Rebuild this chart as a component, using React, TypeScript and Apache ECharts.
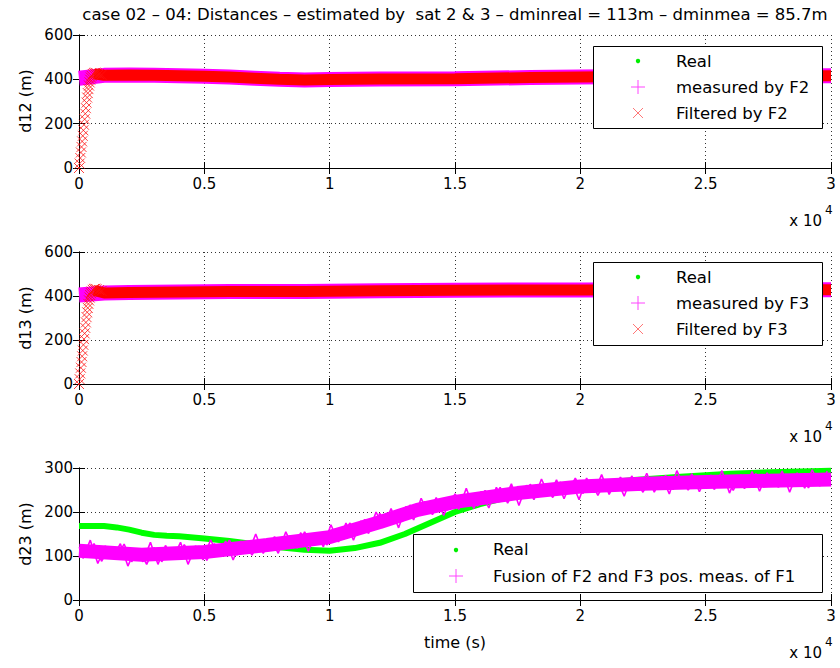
import React, { useEffect, useRef } from "react";
import * as echarts from "echarts";

const FONT = "DejaVu Sans";

const TITLE = "case 02 – 04: Distances – estimated by  sat 2 & 3 – dminreal = 113m – dminmea = 85.7m";

// ---- subplot 1 : d12 ----
const T_BAND = [0, 1000, 2000, 3000, 4000, 5000, 6000, 7000, 8000, 9000, 10000, 12000, 15000, 18000, 20000, 23000, 25000, 30000];
const REAL_D12 = [405, 417, 418, 417, 415, 413, 409, 404, 399, 396, 398, 400, 402, 407, 410, 413, 414, 415];
const MEAS_D12 = [405, 418, 419, 418, 416, 414, 410, 405, 400, 397, 399, 401, 403, 408, 411, 414, 415, 416];
const T_FILT = [600, 1000, 2000, 3000, 4000, 5000, 6000, 7000, 8000, 9000, 10000, 12000, 15000, 18000, 20000, 23000, 25000, 30000];
const FILT_D12 = [425, 418, 419, 418, 416, 414, 410, 405, 400, 397, 399, 401, 403, 408, 411, 414, 415, 416];
const T_RAMP = [0, 25, 50, 75, 100, 125, 150, 175, 200, 225, 250, 275, 300, 325, 350, 375, 400, 425, 450, 475, 500, 550, 600, 650, 700, 800, 900];
const RAMP_D12 = [0, 20, 45, 70, 95, 120, 145, 170, 195, 220, 245, 270, 295, 318, 338, 356, 372, 386, 398, 408, 416, 424, 428, 430, 428, 424, 420];

// ---- subplot 2 : d13 ----
const REAL_D13 = [405, 413, 415, 416, 417, 418, 419, 419, 420, 420, 421, 423, 425, 426, 426, 427, 427, 427];
const MEAS_D13 = [405, 414, 416, 417, 418, 419, 420, 420, 421, 421, 422, 424, 426, 427, 427, 428, 428, 428];
const FILT_D13 = [425, 414, 416, 417, 418, 419, 420, 420, 421, 421, 422, 424, 426, 427, 427, 428, 428, 428];
const RAMP_D13 = [0, 22, 48, 74, 100, 126, 152, 178, 204, 230, 255, 280, 304, 326, 346, 364, 380, 393, 404, 413, 420, 428, 432, 433, 431, 427, 423];

// ---- subplot 3 : d23 ----
const T_REAL3 = [0, 1000, 1500, 2000, 2500, 3000, 3500, 4000, 5000, 6000, 7000, 8000, 9000, 10000, 11000, 12000, 13000, 14000, 15000, 16000, 17000, 18000, 19000, 20000, 22000, 24000, 26000, 28000, 30000];
const REAL_D23 = [168, 168, 165, 160, 153, 148, 146, 145, 140, 134, 127, 120, 114, 112, 118, 130, 150, 175, 200, 218, 232, 243, 251, 260, 272, 280, 287, 291, 294];
const T_FUS_CORE = [0, 2500, 5000, 7500, 10000, 12000, 13500, 15000, 17500, 20000, 22500, 25000, 27500, 30000];
const FUS_CORE_D23 = [112, 103, 109, 125, 143, 177, 205, 223, 243, 258, 264, 268, 271, 274];
const FUS_STEP = 300;
// noisy samples at t = i*300
const FUS_A_D23 = [
  120, 97, 128, 88, 119, 97, 127, 87, 113, 81,
  119, 87, 115, 93, 126, 97, 122, 90, 128, 105,
  136, 102, 131, 102, 133, 112, 144, 119, 146, 118,
  155, 126, 151, 125, 161, 138, 175, 151, 183, 158,
  197, 171, 201, 178, 216, 195, 224, 194, 228, 204,
  241, 212, 242, 213, 249, 223, 256, 220, 255, 233,
  263, 234, 261, 233, 268, 245, 277, 242, 272, 238,
  271, 247, 279, 251, 272, 245, 278, 254, 283, 251,
  278, 250, 277, 254, 284, 257, 282, 249, 285, 259,
  287, 258, 282, 256, 286, 262, 285, 255, 286, 262,
  284,
];
// noisy samples at t = i*300 + 150
const FUS_B_D23 = [
  94, 136, 83, 123, 97, 128, 77, 116, 87, 131,
  81, 124, 94, 131, 81, 123, 91, 137, 101, 134,
  91, 134, 106, 150, 106, 139, 106, 155, 118, 153,
  111, 153, 121, 171, 132, 175, 136, 180, 151, 200,
  166, 208, 164, 213, 182, 231, 196, 233, 192, 234,
  206, 254, 208, 247, 209, 256, 225, 264, 215, 261,
  228, 275, 237, 273, 230, 270, 228, 277, 244, 285,
  240, 275, 236, 282, 249, 288, 245, 281, 241, 294,
  254, 287, 246, 283, 251, 294, 243, 284, 253, 292,
  247, 289, 258, 293, 245, 289, 254, 296, 259, 293,
];

const zip = (t: number[], v: number[]) => v.map((y, i) => [t[i], y]);

const CROSS = "path://M0,0L10,10M10,0L0,10";

const GRIDS = [
  { left: 79, top: 35, width: 752, height: 133 },
  { left: 79, top: 252, width: 752, height: 132 },
  { left: 79, top: 468, width: 752, height: 132 },
];
const Y_RANGES = [
  { max: 600, interval: 200 },
  { max: 600, interval: 200 },
  { max: 300, interval: 100 },
];

function buildOption() {
  const xAxis: any[] = [];
  const yAxis: any[] = [];
  GRIDS.forEach((_, g) => {
    const base = {
      type: "value",
      gridIndex: g,
      min: 0,
      max: 30000,
      interval: 5000,
      axisLine: { show: true, lineStyle: { color: "#000", width: 1 } },
      axisTick: { show: true, inside: true, length: 6, lineStyle: { color: "#000" } },
    };
    xAxis.push({
      ...base,
      position: "bottom",
      axisLabel: {
        color: "#000",
        fontFamily: FONT,
        fontSize: 15,
        margin: 8,
        formatter: (v: number) => String(v / 10000),
      },
      splitLine: { show: true, lineStyle: { color: "#333", type: [1, 3], width: 1 } },
    });
    xAxis.push({ ...base, position: "top", axisLabel: { show: false }, splitLine: { show: false } });
    const yb = {
      type: "value",
      gridIndex: g,
      min: 0,
      max: Y_RANGES[g].max,
      interval: Y_RANGES[g].interval,
      axisLine: { show: true, lineStyle: { color: "#000", width: 1 } },
      axisTick: { show: true, inside: true, length: 6, lineStyle: { color: "#000" } },
    };
    yAxis.push({
      ...yb,
      position: "left",
      axisLabel: { color: "#000", fontFamily: FONT, fontSize: 15, margin: 6 },
      splitLine: { show: true, lineStyle: { color: "#333", type: [1, 3], width: 1 } },
    });
    yAxis.push({ ...yb, position: "right", axisLabel: { show: false }, splitLine: { show: false } });
  });

  const line = (name: string, g: number, data: number[][], color: string, width: number, z = 2) => ({
    type: "line",
    name,
    xAxisIndex: g * 2,
    yAxisIndex: g * 2,
    data,
    showSymbol: false,
    symbol: "none",
    lineStyle: { color, width },
    itemStyle: { color },
    z,
  });
  const ramp = (name: string, g: number, data: number[][]) => ({
    type: "scatter",
    name,
    xAxisIndex: g * 2,
    yAxisIndex: g * 2,
    data,
    symbol: CROSS,
    symbolSize: 10,
    clip: false,
    itemStyle: { color: "rgba(0,0,0,0)", borderColor: "#ff1010", borderWidth: 1 },
    z: 4,
  });
  const FUSION = "Fusion of F2 and F3 pos. meas. of F1";

  const series: any[] = [
    line("Real", 0, zip(T_BAND, REAL_D12), "#00ff00", 3, 1),
    line("measured by F2", 0, zip(T_BAND, MEAS_D12), "#ff00ff", 15, 2),
    line("Filtered by F2", 0, zip(T_FILT, FILT_D12), "#ff0000", 11, 3),
    ramp("Filtered by F2", 0, zip(T_RAMP, RAMP_D12)),
    line("Real", 1, zip(T_BAND, REAL_D13), "#00ff00", 3, 1),
    line("measured by F3", 1, zip(T_BAND, MEAS_D13), "#ff00ff", 15, 2),
    line("Filtered by F3", 1, zip(T_FILT, FILT_D13), "#ff0000", 11, 3),
    ramp("Filtered by F3", 1, zip(T_RAMP, RAMP_D13)),
    line("Real", 2, zip(T_REAL3, REAL_D23), "#00ff00", 6, 1),
    line(FUSION, 2, zip(T_FUS_CORE, FUS_CORE_D23), "#ff00ff", 14, 2),
    line(FUSION, 2, FUS_A_D23.map((v, i) => [i * FUS_STEP, v]), "#ff00ff", 1.6, 3),
    line(FUSION, 2, FUS_B_D23.map((v, i) => [i * FUS_STEP + FUS_STEP / 2, v]), "#ff00ff", 1.6, 3),
  ];

  const txt = (text: string, x: number, y: number, size: number, align = "left", rotation = 0) => ({
    type: "text",
    x,
    y,
    rotation,
    z: 100,
    style: {
      text,
      fill: "#000",
      fontFamily: FONT,
      fontSize: size,
      align,
      textAlign: align,
      verticalAlign: "middle",
      textVerticalAlign: "middle",
    },
  });
  const seg = (x1: number, y1: number, x2: number, y2: number, stroke: string) => ({
    type: "line",
    z: 101,
    shape: { x1, y1, x2, y2 },
    style: { stroke, lineWidth: 1 },
  });
  const box = (x: number, y: number, w: number, h: number) => ({
    type: "rect",
    z: 99,
    shape: { x, y, width: w, height: h },
    style: { fill: "#fff", stroke: "#000", lineWidth: 1 },
  });
  const dot = (x: number, y: number) => ({
    type: "circle",
    z: 101,
    shape: { cx: x, cy: y, r: 2.2 },
    style: { fill: "#00ee00" },
  });
  const plus = (x: number, y: number) => [seg(x - 7, y, x + 7, y, "#ff44ff"), seg(x, y - 7, x, y + 7, "#ff44ff")];
  const cross = (x: number, y: number) => [seg(x - 5, y - 5, x + 5, y + 5, "#ff7777"), seg(x - 5, y + 5, x + 5, y - 5, "#ff7777")];

  const LF = 16.5;
  const graphic: any[] = [
    txt(TITLE, 455, 14, 16.5, "center"),
    txt("d12 (m)", 25, 101, 16, "center", Math.PI / 2),
    txt("d13 (m)", 25, 318, 16, "center", Math.PI / 2),
    txt("d23 (m)", 25, 534, 16, "center", Math.PI / 2),
    txt("x 10", 822, 221, 15, "right"),
    txt("4", 825, 210, 12, "left"),
    txt("x 10", 822, 437, 15, "right"),
    txt("4", 825, 426, 12, "left"),
    txt("x 10", 822, 653, 15, "right"),
    txt("4", 825, 642, 12, "left"),
    txt("time (s)", 455, 642, 16, "center"),
    // legend 1
    box(593.5, 46.5, 229, 82),
    dot(638, 61),
    ...plus(638, 87),
    ...cross(638, 113),
    txt("Real", 676, 61, LF),
    txt("measured by F2", 676, 87, LF),
    txt("Filtered by F2", 676, 113, LF),
    // legend 2
    box(593.5, 262.5, 229, 83),
    dot(638, 277),
    ...plus(638, 303),
    ...cross(638, 329),
    txt("Real", 676, 277, LF),
    txt("measured by F3", 676, 303, LF),
    txt("Filtered by F3", 676, 329, LF),
    // legend 3
    box(413.5, 534.5, 409, 58),
    dot(456, 550),
    ...plus(456, 576),
    txt("Real", 493, 549, LF),
    txt(FUSION, 493, 576, LF),
  ];

  return {
    animation: false,
    backgroundColor: "#fff",
    grid: GRIDS,
    xAxis,
    yAxis,
    series,
    graphic,
  };
}

export default function App() {
  const ref = useRef<HTMLDivElement>(null);
  useEffect(() => {
    const chart = echarts.init(ref.current!, null, { renderer: "svg" });
    chart.setOption(buildOption() as any);
    return () => chart.dispose();
  }, []);
  return <div ref={ref} style={{ position: "fixed", left: 0, top: 0, width: 840, height: 668 }} />;
}
